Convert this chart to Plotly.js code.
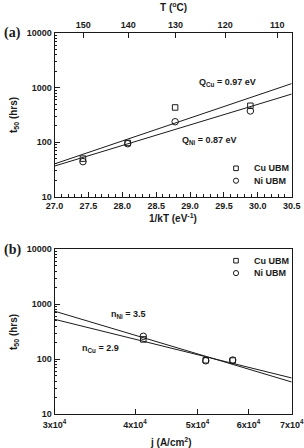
<!DOCTYPE html>
<html>
<head>
<meta charset="utf-8">
<script src="https://cdn.plot.ly/plotly-3.0.1.min.js"></script>
<style>
  html, body { margin: 0; padding: 0; background: #fff; }
  #chart { width: 304px; height: 448px; }
</style>
</head>
<body>
<div id="chart"></div>
<script>
// ---- (a) lifetime vs 1/kT ----
const invKT = [27.42, 28.08, 28.78, 29.89];
const t50CuA = [50, 97, 435, 467];
const t50NiA = [44, 94, 238, 375];
// Arrhenius fits: t50 = t0 * exp(Q * (1/kT - x0))
const fitInvKT = [27.0, 30.5];
const qCu = 0.97, qNi = 0.87;      // eV
const t0CuA = 40, t0NiA = 36.5;    // hrs at 1/kT = 27.0
// Top axis: temperature labels
const tempC = [150, 140, 130, 120, 110];

// ---- (b) lifetime vs current density ----
const jVals = [41200, 51500, 56700];
const t50CuB = [230, 96, 95];
const t50NiB = [262, 94, 97];
// Black's law fits: t50 = t0 * (j / j0)^-n
const fitJ = [30000, 70000];
const nCu = 2.9, nNi = 3.5;
const t0CuB = 534, t0NiB = 750;    // hrs at j = 3x10^4
const jTicks = [30000, 40000, 50000, 60000, 70000];
const jTickText = ['3x10<sup>4</sup>', '4x10<sup>4</sup>', '5x10<sup>4</sup>', '6x10<sup>4</sup>', '7x10<sup>4</sup>'];

const seriesNames = ['Cu UBM', 'Ni UBM'];

const kB = 8.617e-5; // eV/K
const tempInvKT = tempC.map(T => 1 / (kB * (T + 273.15)));

const fitA = (t0, q) => fitInvKT.map(x => t0 * Math.exp(q * (x - fitInvKT[0])));
const fitB = (t0, n) => fitJ.map(j => t0 * Math.pow(j / fitJ[0], -n));

const INK = '#1a1a1a';
const SANS = 'Liberation Sans, Arial, sans-serif';
const tickFont = { family: SANS, size: 9, weight: 'bold', color: INK };
const titleFont = { family: SANS, size: 10, weight: 'bold', color: INK };
const panelFont = { family: 'Liberation Serif, Times New Roman, serif', size: 14, weight: 'bold', color: INK };

const sq = { symbol: 'square-open', size: 5.5, color: INK, line: { width: 1, color: INK } };
const ci = { symbol: 'circle-open', size: 6.5, color: INK, line: { width: 1, color: INK } };
const fitLine = { color: INK, width: 1 };

const traces = [
  { x: fitInvKT, y: fitA(t0CuA, qCu), mode: 'lines', line: fitLine, xaxis: 'x', yaxis: 'y' },
  { x: fitInvKT, y: fitA(t0NiA, qNi), mode: 'lines', line: fitLine, xaxis: 'x', yaxis: 'y' },
  { x: invKT, y: t50CuA, mode: 'markers', name: seriesNames[0], marker: sq, xaxis: 'x', yaxis: 'y' },
  { x: invKT, y: t50NiA, mode: 'markers', name: seriesNames[1], marker: ci, xaxis: 'x', yaxis: 'y' },
  // empty trace that carries the temperature axis
  { x: fitInvKT, y: [null, null], mode: 'lines', xaxis: 'x2', yaxis: 'y' },

  { x: fitJ, y: fitB(t0CuB, nCu), mode: 'lines', line: fitLine, xaxis: 'x3', yaxis: 'y3' },
  { x: fitJ, y: fitB(t0NiB, nNi), mode: 'lines', line: fitLine, xaxis: 'x3', yaxis: 'y3' },
  { x: jVals, y: t50CuB, mode: 'markers', name: seriesNames[0], marker: sq, xaxis: 'x3', yaxis: 'y3' },
  { x: jVals, y: t50NiB, mode: 'markers', name: seriesNames[1], marker: ci, xaxis: 'x3', yaxis: 'y3' }
];
traces.forEach(t => { t.showlegend = false; t.hoverinfo = 'skip'; });

const W = 304, H = 448;
const px = v => v / W;
const py = v => 1 - v / H;
const xDom = [px(54.5), px(291.7)];

const logY = (dom, anchor) => ({
  type: 'log', range: [1, 4], domain: dom, anchor: anchor,
  tickvals: [10, 100, 1000, 10000], ticktext: ['10', '100', '1000', '10000'],
  ticks: 'inside', ticklen: 5, tickwidth: 1, tickcolor: INK,
  minor: { ticks: 'inside', ticklen: 2.5, tickwidth: 1, tickcolor: INK, dtick: 'D1', showgrid: false },
  showline: true, linecolor: INK, linewidth: 1, mirror: true,
  showgrid: false, zeroline: false, tickfont: tickFont
});

// Hand-built key: symbol + label, one block per panel
function key(top) {
  const shapes = [], notes = [];
  const rows = [top, top + 12.4];
  const s = 2.3, r = 2.6, cx = 236;
  shapes.push({ type: 'rect', xref: 'paper', yref: 'paper', x0: px(cx - s), x1: px(cx + s), y0: py(rows[0] + s), y1: py(rows[0] - s), line: { color: INK, width: 1 } });
  shapes.push({ type: 'circle', xref: 'paper', yref: 'paper', x0: px(cx - r), x1: px(cx + r), y0: py(rows[1] + r), y1: py(rows[1] - r), line: { color: INK, width: 1 } });
  seriesNames.forEach((n, i) => notes.push({
    text: n, xref: 'paper', yref: 'paper', x: px(251.5), y: py(rows[i]), xanchor: 'left', yanchor: 'middle', showarrow: false, font: tickFont
  }));
  return { shapes, notes };
}
const keyA = key(168.3), keyB = key(260.7);

const note = (text, x, y, font, extra) => Object.assign({
  text, xref: 'paper', yref: 'paper', x: px(x), y: py(y), xanchor: 'center', yanchor: 'middle', showarrow: false, font
}, extra || {});

const layout = {
  width: W, height: H,
  margin: { l: 0, r: 0, t: 0, b: 0 },
  paper_bgcolor: '#fff', plot_bgcolor: '#fff',
  showlegend: false,
  xaxis: {
    range: [27.0, 30.5], domain: xDom, anchor: 'y',
    dtick: 0.5, tick0: 27, tickformat: '.1f',
    ticks: 'inside', ticklen: 5, tickwidth: 1, tickcolor: INK,
    minor: { ticks: 'inside', ticklen: 2.5, tickwidth: 1, tickcolor: INK, dtick: 0.1, showgrid: false },
    showline: true, linecolor: INK, linewidth: 1, mirror: true,
    showgrid: false, zeroline: false, tickfont: tickFont
  },
  xaxis2: {
    range: [27.0, 30.5], overlaying: 'x', side: 'top', anchor: 'y',
    tickvals: tempInvKT, ticktext: tempC.map(String),
    ticks: 'inside', ticklen: 5, tickwidth: 1, tickcolor: INK, ticklabelstandoff: 3,
    showline: false, showgrid: false, zeroline: false, tickfont: tickFont
  },
  yaxis: logY([py(196.7), py(33.3)], 'x'),
  xaxis3: {
    type: 'log', range: [Math.log10(fitJ[0]), Math.log10(fitJ[1])], domain: xDom, anchor: 'y3',
    tickvals: jTicks, ticktext: jTickText,
    ticks: 'inside', ticklen: 5, tickwidth: 1, tickcolor: INK, ticklabelstandoff: 2,
    showline: true, linecolor: INK, linewidth: 1, mirror: true,
    showgrid: false, zeroline: false, tickfont: tickFont
  },
  yaxis3: logY([py(414.3), py(249.3)], 'x3'),
  shapes: keyA.shapes.concat(keyB.shapes),
  annotations: [
    note('(a)', 2, 33.5, panelFont, { xanchor: 'left' }),
    note('(b)', 2, 249.5, panelFont, { xanchor: 'left' }),
    note('T (<sup>o</sup>C)', 173, 7, titleFont),
    note('1/kT (eV<sup>-1</sup>)', 172.5, 218, titleFont),
    note('j (A/cm<sup>2</sup>)', 170.5, 442, titleFont),
    note('t<sub>50</sub> (hrs)', 14, 115, titleFont, { textangle: -90 }),
    note('t<sub>50</sub> (hrs)', 14, 332, titleFont, { textangle: -90 }),
    note('Q<sub>Cu</sub> = ' + qCu.toFixed(2) + ' eV', 227, 82, tickFont),
    note('Q<sub>Ni</sub> = ' + qNi.toFixed(2) + ' eV', 209, 141, tickFont),
    note('n<sub>Ni</sub> = ' + nNi.toFixed(1), 128, 314.5, tickFont),
    note('n<sub>Cu</sub> = ' + nCu.toFixed(1), 100.5, 348, tickFont)
  ].concat(keyA.notes, keyB.notes)
};

Plotly.newPlot('chart', traces, layout, { staticPlot: true, displayModeBar: false });
</script>
</body>
</html>
